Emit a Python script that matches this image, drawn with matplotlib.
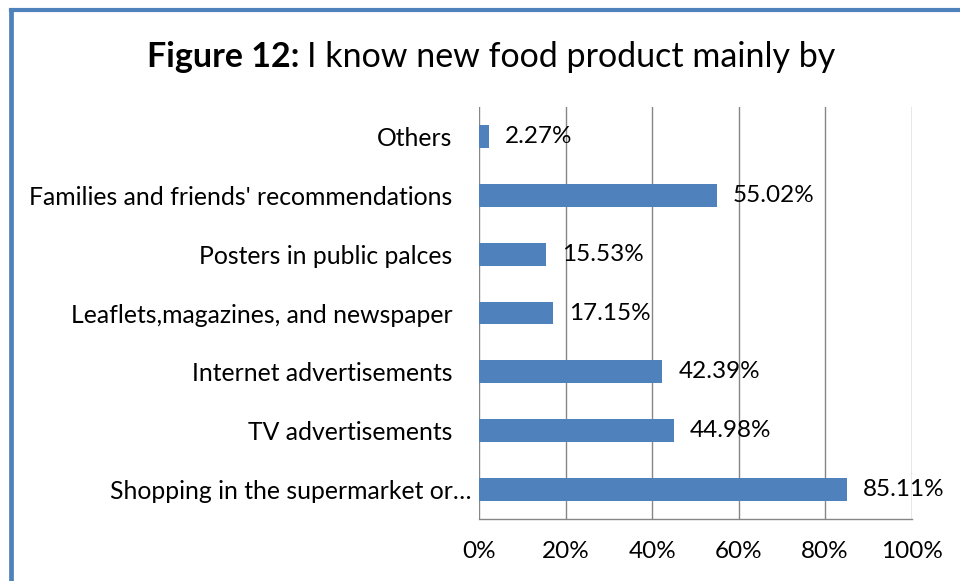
import matplotlib
matplotlib.use("Agg")
import matplotlib.pyplot as plt
from matplotlib.lines import Line2D
from matplotlib.transforms import ScaledTranslation

# chart data
categories = [
    "Others",
    "Families and friends' recommendations",
    "Posters in public palces",
    "Leaflets,magazines, and newspaper",
    "Internet advertisements",
    "TV advertisements",
    "Shopping in the supermarket or\u2026",
]
values = [2.27, 55.02, 15.53, 17.15, 42.39, 44.98, 85.11]
x_ticks = [0, 20, 40, 60, 80, 100]
x_tick_labels = ["0%", "20%", "40%", "60%", "80%", "100%"]

BAR_COLOR = "#4F81BD"
GRID_COLOR = "#868686"
FONT = ["Lato", "DejaVu Sans"]
LABEL_SIZE = 17.8

plt.rcParams["font.family"] = FONT

fig = plt.figure(figsize=(9.6, 5.81), dpi=100)
ax = fig.add_axes([0.499, 0.1067, 0.4507, 0.7091])

# Bars, top to bottom in list order
y_pos = list(range(len(categories)))
ax.barh(y_pos, values, height=0.39, color=BAR_COLOR, zorder=3)
ax.set_ylim(len(categories) - 0.5, -0.5)
ax.set_xlim(0, 100)

ax.set_yticks(y_pos)
ax.set_yticklabels(categories, fontsize=LABEL_SIZE, color="black")
ax.set_xticks(x_ticks)
ax.set_xticklabels(x_tick_labels, fontsize=LABEL_SIZE - 0.3, color="black")
ax.tick_params(axis="y", length=0, pad=19)
ax.tick_params(axis="x", length=0, pad=16)

# the truncated label sits closer to the axis in the original
last = ax.get_yticklabels()[-1]
last.set_transform(last.get_transform() + ScaledTranslation(0.19, 0, fig.dpi_scale_trans))

# Vertical gridlines
ax.grid(axis="x", color=GRID_COLOR, linewidth=1.0, zorder=0)
for side in ["top", "left", "right"]:
    ax.spines[side].set_visible(False)
ax.spines["bottom"].set_color(GRID_COLOR)
ax.spines["bottom"].set_linewidth(1.0)

# Value labels
for y, v in zip(y_pos, values):
    ax.annotate(f"{v:.2f}%", xy=(v, y), xytext=(11.5, 0), textcoords="offset points",
                va="center", ha="left", fontsize=LABEL_SIZE - 0.3, color="black", zorder=4)

# Title, bold prefix followed by regular text
t1 = fig.text(147 / 960, 1 - 57 / 581, "Figure 12:", fontsize=24.5, fontweight="bold",
              va="center", ha="left")
fig.canvas.draw()
bb = t1.get_window_extent(renderer=fig.canvas.get_renderer())
fig.text((bb.x1 + 8) / 960, 1 - 57 / 581, "I know new food product mainly by",
         fontsize=24.5, va="center", ha="left")

# Blue frame along left and top edges
fig.add_artist(Line2D([10.5 / 960, 10.5 / 960], [0, 1 - 10 / 581], transform=fig.transFigure,
                      color=BAR_COLOR, linewidth=3.4, solid_capstyle="projecting"))
fig.add_artist(Line2D([10.5 / 960, 1], [1 - 10 / 581, 1 - 10 / 581], transform=fig.transFigure,
                      color=BAR_COLOR, linewidth=3.0, solid_capstyle="projecting"))

fig.savefig("out.png", dpi=100)
